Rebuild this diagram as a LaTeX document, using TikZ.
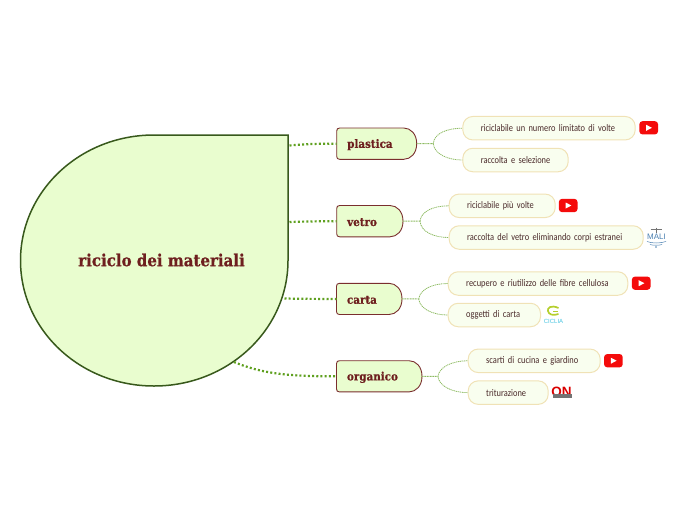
\documentclass[tikz,border=0pt]{standalone}
\usepackage{fontspec}
\newfontfamily\ttlfont[FakeBold=0.6]{DejaVu Serif Condensed Bold}
\newfontfamily\leaffont[FakeStretch=0.84]{Carlito}
\newfontfamily\logofont{Liberation Sans}
\definecolor{mainfill}{HTML}{E9FDCF}
\definecolor{mainedge}{HTML}{38591C}
\definecolor{branchedge}{HTML}{7A2E2E}
\definecolor{titlecol}{HTML}{6E1F1F}
\definecolor{leaffill}{HTML}{F9FEEF}
\definecolor{leafedge}{HTML}{F0E2B6}
\definecolor{leaftext}{HTML}{4A2A2A}
\definecolor{thick}{HTML}{5FA020}
\definecolor{thin}{HTML}{8DBB62}
\definecolor{ytred}{HTML}{F40B0B}
\definecolor{maliblue}{HTML}{4A7FB0}
\definecolor{cicliagreen}{HTML}{B5CF2E}
\definecolor{cicliacyan}{HTML}{45C3E0}
\tikzset{
  x=1pt,y=-1pt,
  rootline/.style={draw=mainedge,fill=mainfill,line width=1.5pt,line join=miter},
  branchshape/.style={draw=branchedge,fill=mainfill,line width=0.9pt},
  branchtext/.style={inner sep=0pt,text=titlecol,font=\ttlfont\fontsize{11.5}{13}\selectfont,align=left},
  leafbox/.style={draw=leafedge,fill=leaffill,line width=1pt,rounded corners=10pt,minimum height=23.5pt,inner ysep=0pt,inner xsep=18pt,anchor=west,align=left,text=leaftext,font=\leaffont\fontsize{10}{11}\selectfont},
  maindots/.style={draw=thick,line width=2.2pt,dash pattern=on 2pt off 2.2pt},
  stem/.style={draw=thin,line width=1pt,dash pattern=on 1pt off 0.6pt},
  twig/.style={draw=thin,line width=0.8pt,dash pattern=on 1.2pt off 0.7pt},
  yt/.style={fill=ytred,rounded corners=3pt,minimum width=18.6pt,minimum height=13.2pt,inner sep=0pt},
}
% name, x1, y1, x2, y2, text
\newcommand{\branchnode}[6]{%
  \pgfmathsetmacro{\bxa}{#2+3}\pgfmathsetmacro{\bxb}{#4-13}
  \pgfmathsetmacro{\bxc}{#4-6}\pgfmathsetmacro{\bya}{#3+3}\pgfmathsetmacro{\byb}{#5-3}
  \pgfmathsetmacro{\bym}{(#3+#5)/2}\pgfmathsetmacro{\bxm}{(#2+#4)/2}
  \pgfmathsetmacro{\bw}{#4-#2}\pgfmathsetmacro{\bh}{#5-#3}\pgfmathsetmacro{\btw}{\bw-10.5}
  \path[branchshape] (\bxa,#3) -- (\bxb,#3) .. controls (\bxc,#3) and (#4,\bya+3) .. (#4,\bym)
    .. controls (#4,\byb-3) and (\bxc,#5) .. (\bxb,#5) -- (\bxa,#5)
    .. controls (#2+1,#5) and (#2,#5-1) .. (#2,\byb) -- (#2,\bya)
    .. controls (#2,#3+1) and (#2+1,#3) .. (\bxa,#3) -- cycle;
  \node[branchtext,minimum height=\bh pt,text width=\btw pt,inner xsep=0pt,xshift=5.25pt,yshift=-1pt] (#1t) at (\bxm,\bym) {\mbox{#6}};
  \coordinate (#1) at (\bxm,\bym);
  \coordinate (#1W) at (#2,\bym);
  \coordinate (#1E) at (#4,\bym);
}
\newcommand{\ytbadge}[3]{%
  \node[yt] (#1) at (#2,#3) {};
  \fill[white] (#2-2.5,#3-3) -- (#2+3.2,#3) -- (#2-2.5,#3+3) -- cycle;
}
\begin{document}
\begin{tikzpicture}
\useasboundingbox (0,0) rectangle (696,520);
% root
\path[rootline] (154,135) -- (288,135) -- (288,260.5)
  .. controls (288,329.8) and (228,386) .. (154,386)
  .. controls (80,386) and (20.5,329.8) .. (20.5,260.5)
  .. controls (20.5,191.2) and (80,135) .. (154,135) -- cycle;
\node[text=titlecol,inner sep=0pt,font=\ttlfont\fontsize{16.7}{18}\selectfont] (root) at (161.5,260) {riciclo dei materiali};
\coordinate (r1) at (289.5,145.5);
\coordinate (r2) at (289.5,222);
\coordinate (r3) at (284.5,298.5);
\coordinate (r4) at (234,362);
% branches
\branchnode{pl}{336.7}{128}{416.7}{159.3}{plastica}
\branchnode{ve}{336.7}{205.5}{403}{236.8}{vetro}
\branchnode{ca}{336.5}{283.3}{402}{314.5}{carta}
\branchnode{or}{336.5}{360.7}{422}{391.9}{organico}
% leaves
\node[leafbox,minimum width=172.4pt,text width=136.4pt] (a1) at (462.3,128.2) {\mbox{riciclabile un numero limitato di volte}};
\node[leafbox,minimum width=105.4pt,text width=69.4pt] (a2) at (462.3,160) {\mbox{raccolta e selezione}};
\node[leafbox,minimum width=106pt,text width=70pt] (b1) at (448.7,205.8) {\mbox{riciclabile più volte}};
\node[leafbox,minimum width=194pt,text width=158pt] (b2) at (448.7,237.5) {\mbox{raccolta del vetro eliminando corpi estranei}};
\node[leafbox,minimum width=179.6pt,text width=143.6pt] (c1) at (447.7,283.5) {\mbox{recupero e riutilizzo delle fibre cellulosa}};
\node[leafbox,minimum width=92.3pt,text width=56.3pt] (c2) at (447.7,315) {\mbox{oggetti di carta}};
\node[leafbox,minimum width=132pt,text width=96pt] (d1) at (467.7,360.8) {\mbox{scarti di cucina e giardino}};
\node[leafbox,minimum width=80pt,text width=44pt] (d2) at (467.7,392.6) {\mbox{triturazione}};
% junctions
\coordinate (ja) at (433.3,143.6);
\coordinate (jb) at (420,221.2);
\coordinate (jc) at (418.7,299);
\coordinate (jd) at (438,376.5);
% main connectors
\draw[maindots] (r1) .. controls (305,144) and (320,143.6) .. (plW);
\draw[maindots] (r2) .. controls (305,221.5) and (320,221.2) .. (veW);
\draw[maindots] (r3) .. controls (300,298.8) and (320,299) .. (caW);
\draw[maindots] (r4) .. controls (265,375) and (295,376.3) .. (orW);
% stems and twigs
\draw[stem] (plE) -- (ja);
\draw[stem] (veE) -- (jb);
\draw[stem] (caE) -- (jc);
\draw[stem] (orE) -- (jd);
\draw[twig] (ja) .. controls (434,133) and (448,128.2) .. (a1.west);
\draw[twig] (ja) .. controls (434,154) and (448,160) .. (a2.west);
\draw[twig] (jb) .. controls (421,211) and (434,205.8) .. (b1.west);
\draw[twig] (jb) .. controls (421,232) and (434,237.5) .. (b2.west);
\draw[twig] (jc) .. controls (420,289) and (433,283.5) .. (c1.west);
\draw[twig] (jc) .. controls (420,309) and (433,315) .. (c2.west);
\draw[twig] (jd) .. controls (439,367) and (452,360.8) .. (d1.west);
\draw[twig] (jd) .. controls (439,386) and (452,392.6) .. (d2.west);
% video badges
\ytbadge{y1}{648.7}{127.8}
\ytbadge{y2}{568.2}{205.5}
\ytbadge{y3}{641.2}{283.2}
\ytbadge{y4}{613.4}{360.7}
% MALI logo
\draw[black!55,line width=0.5pt] (650.5,229.5) -- (661.5,229.5) (656,227.5) -- (656,233);
\node[inner sep=0pt,text=maliblue,font=\logofont\fontsize{8}{9}\selectfont] (mali) at (656.5,236.8) {MALI};
\draw[maliblue,line width=0.5pt] (647,241.5) .. controls (652,243.5) and (660,243.5) .. (666,241.5);
\draw[maliblue,line width=0.5pt] (650,244.5) .. controls (653,245.5) and (659,245.5) .. (662,244.5);
\fill[maliblue] (656,247) circle (0.9);
% CICLIA logo
\draw[cicliagreen,line width=1.7pt] (558.5,308) .. controls (551,304.5) and (547,308) .. (548,311) .. controls (548.5,314.5) and (553,316) .. (558.5,314);
\draw[cicliagreen,line width=1pt] (558,311) -- (553,311);
\node[inner sep=0pt,text=cicliacyan,font=\logofont\fontsize{6}{7}\selectfont] (ciclia) at (553.5,321) {CICLIA};
% ON logo
\node[inner sep=0pt,text=red!85!black,font=\logofont\bfseries\fontsize{13.5}{14}\selectfont] (onlogo) at (561.5,391.5) {ON};
\fill[black!55] (553,394) rectangle (572,398);
\end{tikzpicture}
\end{document}
